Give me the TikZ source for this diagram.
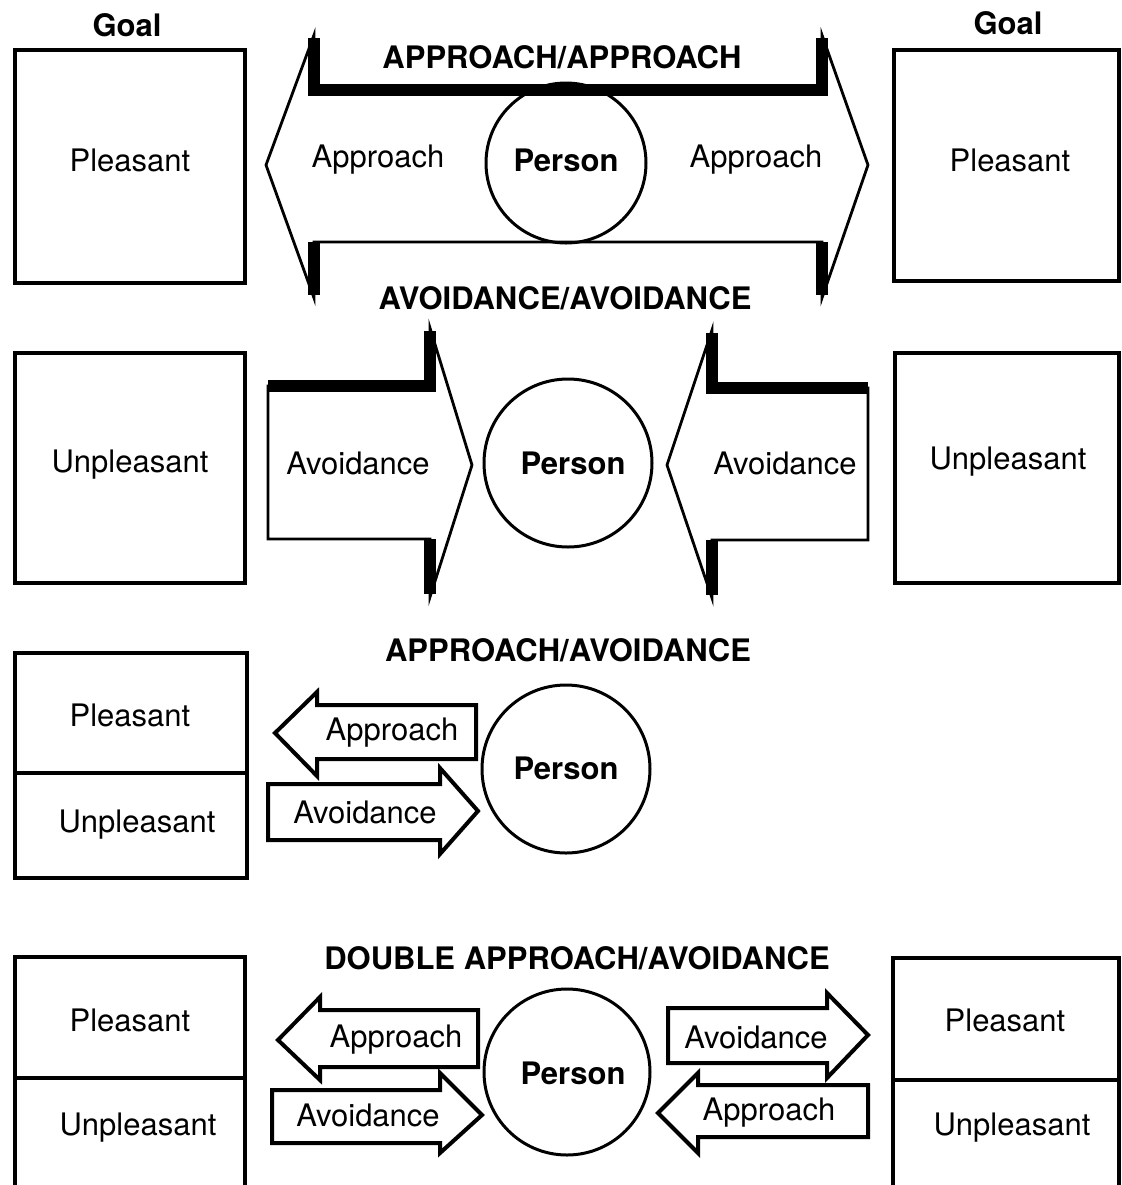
\documentclass[tikz,border=0pt]{standalone}
\usepackage{fontspec}
\setmainfont{TeX Gyre Heros}
\usepackage{tikz}

\begin{document}
\begin{tikzpicture}[x=0.5pt,y=-0.5pt,
    txt/.style={inner sep=0pt,font=\fontsize{15.5}{18}\selectfont},
    btxt/.style={txt,font=\fontsize{15.5}{18}\selectfont\bfseries},
    goalbox/.style={line width=1.75pt},
    bigarrow/.style={line width=1.4pt,line join=miter},
    shadow/.style={line width=6pt},
    smallarrow/.style={line width=2pt,line join=miter},
    person/.style={line width=1.5pt}]
    \useasboundingbox (0,0) rectangle (1122,1185);
    \draw[goalbox] (15,50) rectangle (245,283) (894,50) rectangle (1119,281)
    (15,353) rectangle (245,583) (895,353) rectangle (1119,583)
    (15,653) rectangle (247,878) (15,773) -- (247,773)
    (15,1185) -- (15,957) -- (245,957) -- (245,1185) (15,1078) -- (245,1078)
    (893,1185) -- (893,958) -- (1119,958) -- (1119,1185) (893,1080) -- (1119,1080);
    \node[btxt] (goall) at (127,25) {Goal};
    \node[btxt] (goalr) at (1008,23) {Goal};
    \node[txt] (pl1) at (130,160) {Pleasant};
    \node[txt] (pr1) at (1010,160) {Pleasant};
    \node[txt] (ul2) at (130,465) {Unpleasant};
    \node[txt] (ur2) at (1008,462) {Unpleasant};
    \node[txt] (pl3) at (130,715) {Pleasant};
    \node[txt] (ul3) at (137,825) {Unpleasant};
    \node[txt] (pl4) at (130,1020) {Pleasant};
    \node[txt] (ul4) at (138,1128) {Unpleasant};
    \node[txt] (pr4) at (1005,1020) {Pleasant};
    \node[txt] (ur4) at (1012,1128) {Unpleasant};
    \draw[bigarrow] (266,165) -- (314,35) -- (314,90) -- (822,90) -- (822,35) -- (868,165)
    -- (822,298) -- (822,242) -- (314,242) -- (314,298) -- cycle;
    \draw[shadow] (314,38) -- (314,90) -- (822,90) -- (822,38)
    (314,242) -- (314,295) (822,242) -- (822,295);
    \draw[person] (566,163) circle (80);
    \node[btxt] (tt1) at (562,57) {APPROACH/APPROACH};
    \node[btxt] (tt2) at (565,298) {AVOIDANCE/AVOIDANCE};
    \node[btxt] (ps1) at (566,160) {Person};
    \node[txt] (ap1l) at (378,160) {Approach};
    \node[txt] (ap1r) at (756,160) {Approach};
    \draw[bigarrow] (268,386) -- (430,386) -- (430,328) -- (472,465) -- (430,597)
    -- (430,539) -- (268,539) -- cycle;
    \draw[shadow] (268,386) -- (430,386) -- (430,331) (430,539) -- (430,594);
    \draw[bigarrow] (868,388) -- (712,388) -- (712,330) -- (667,465) -- (712,598)
    -- (712,540) -- (868,540) -- cycle;
    \draw[shadow] (868,388) -- (712,388) -- (712,333) (712,540) -- (712,595);
    \draw[person] (568,463) circle (84);
    \node[btxt] (ps2) at (573,463) {Person};
    \node[txt] (av2l) at (358,463) {Avoidance};
    \node[txt] (av2r) at (785,463) {Avoidance};
    \node[btxt] (tt3) at (568,650) {APPROACH/AVOIDANCE};
    \draw[smallarrow] (476,705) -- (317,705) -- (317,692) -- (275,733) -- (317,776)
    -- (317,759) -- (476,759) -- cycle;
    \draw[smallarrow] (268,784) -- (440,784) -- (440,768) -- (478,811) -- (440,854)
    -- (440,840) -- (268,840) -- cycle;
    \draw[person] (566,769) circle (84);
    \node[btxt] (ps3) at (566,768) {Person};
    \node[txt] (ap3) at (392,733) {Approach};
    \node[txt] (av3) at (365,812) {Avoidance};
    \node[btxt] (tt4) at (577,958) {DOUBLE APPROACH/AVOIDANCE};
    \draw[smallarrow] (478,1010) -- (320,1010) -- (320,997) -- (278,1040) -- (320,1080)
    -- (320,1067) -- (478,1067) -- cycle;
    \draw[smallarrow] (272,1090) -- (440,1090) -- (440,1073) -- (482,1115) -- (440,1153)
    -- (440,1143) -- (272,1143) -- cycle;
    \draw[smallarrow] (668,1008) -- (827,1008) -- (827,993) -- (868,1035) -- (827,1078)
    -- (827,1063) -- (668,1063) -- cycle;
    \draw[smallarrow] (868,1085) -- (698,1085) -- (698,1073) -- (658,1113) -- (698,1153)
    -- (698,1137) -- (868,1137) -- cycle;
    \draw[person] (567,1072) circle (83);
    \node[btxt] (ps4) at (573,1073) {Person};
    \node[txt] (ap4l) at (396,1040) {Approach};
    \node[txt] (av4l) at (368,1115) {Avoidance};
    \node[txt] (av4r) at (756,1037) {Avoidance};
    \node[txt] (ap4r) at (769,1113) {Approach};
\end{tikzpicture}
\end{document}
